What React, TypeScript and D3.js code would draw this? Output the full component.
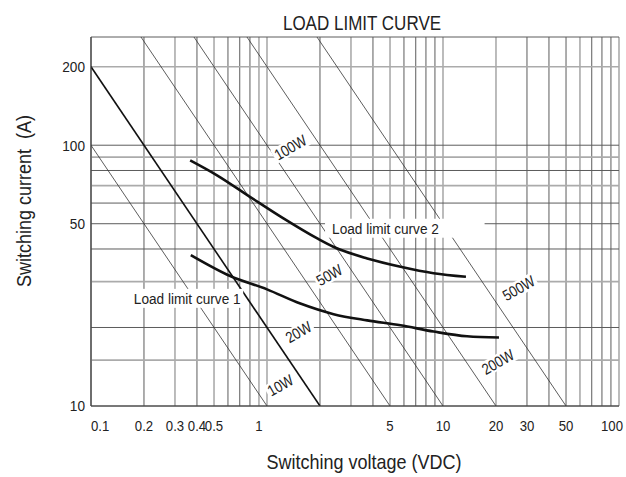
import { useEffect, useRef } from "react";
import * as d3 from "d3";

// grid values (log axes)
const xGridValues = [
  0.1, 0.2, 0.3, 0.4, 0.5, 0.6, 0.7, 0.8, 0.9,
  1, 2, 3, 4, 5, 6, 7, 8, 9,
  10, 20, 30, 40, 50, 60, 70, 80, 90, 100,
];
const xLightGrid = [0.3, 0.5, 0.9, 1, 3, 5, 10, 20, 60, 100];
const yGridValues = [10, 15, 20, 30, 40, 50, 60, 70, 80, 90, 100, 200];
const yLightGrid = [200, 90, 70, 30, 15];

const xTickValues = [0.1, 0.2, 0.3, 0.4, 0.5, 1, 5, 10, 20, 30, 50, 100];
const xTickLabels = ["0.1", "0.2", "0.3", "0.4", "0.5", "1", "5", "10", "20", "30", "50", "100"];
const yTickValues = [10, 50, 100, 200];

// constant power lines (W)
const powerWatts = [10, 20, 50, 100, 200, 500];
const powerLabelV = [1.19, 1.51, 2.26, 1.357, 20.5, 26.9];
const powerLabelI = [12.0, 19.2, 31.8, 98, 14.75, 28.3];

// load limit curves (V, A)
const curve1V = [0.369, 0.618, 1.0, 1.547, 2.39, 3.71, 5.74, 8.84, 13.7, 20.8];
const curve1I = [37.9, 31.5, 28.0, 24.7, 22.5, 21.3, 20.4, 19.3, 18.5, 18.3];
const curve2V = [0.366, 0.52, 0.8, 1.24, 1.93, 2.38, 3.71, 5.74, 8.84, 13.5];
const curve2I = [87.5, 76.7, 63.4, 52.4, 43.9, 40.8, 36.8, 34.2, 32.3, 31.3];

const curveLabels = ["Load limit curve 1", "Load limit curve 2"];
const curveLabelV = [0.352, 4.71];
const curveLabelI = [25.9, 48.1];

const FONT = "'Liberation Sans', Arial, sans-serif";

type Sel = d3.Selection<any, unknown, null, undefined>;

// condensed text: the original uses a narrow Helvetica, so squeeze horizontally
function addText(
  parent: Sel,
  tx: number,
  ty: number,
  str: string,
  size: number,
  squeeze: number,
  anchor = "middle",
  rotate = 0,
  dy = "0em"
) {
  const g = parent
    .append("g")
    .attr("transform", `translate(${tx},${ty}) rotate(${rotate}) scale(${squeeze},1)`);
  const t = g
    .append("text")
    .attr("text-anchor", anchor)
    .attr("dy", dy)
    .style("font-family", FONT)
    .style("font-size", `${size}px`)
    .style("white-space", "pre")
    .attr("fill", "#222")
    .text(str);
  return { g, t };
}

const LoadLimitChart = () => {
  const svgRef = useRef<SVGSVGElement>(null);

  useEffect(() => {
    const svg = d3.select(svgRef.current);
    svg.selectAll("*").remove();

    const left = 91;
    const right = 619;
    const top = 37;
    const bottom = 406;

    const x = d3.scaleLog().domain([0.1, 100]).range([left, right]);
    const y = d3.scaleLog().domain([10, 260]).range([bottom, top]);

    svg
      .append("defs")
      .append("clipPath")
      .attr("id", "plot-clip")
      .append("rect")
      .attr("x", left)
      .attr("y", top)
      .attr("width", right - left)
      .attr("height", bottom - top);

    // grid
    const grid = svg.append("g");
    grid
      .selectAll("line.vx")
      .data(xGridValues)
      .join("line")
      .attr("x1", (d) => x(d))
      .attr("x2", (d) => x(d))
      .attr("y1", top)
      .attr("y2", bottom)
      .attr("stroke", (d) => (xLightGrid.includes(d) ? "#ababab" : "#5c5c5c"))
      .attr("stroke-width", (d) => (xLightGrid.includes(d) ? 1.6 : 1));

    grid
      .selectAll("line.hy")
      .data(yGridValues)
      .join("line")
      .attr("x1", left)
      .attr("x2", right)
      .attr("y1", (d) => y(d))
      .attr("y2", (d) => y(d))
      .attr("stroke", (d) => (yLightGrid.includes(d) ? "#ababab" : "#5c5c5c"))
      .attr("stroke-width", (d) => (yLightGrid.includes(d) ? 1.6 : 1));

    grid
      .append("line")
      .attr("x1", left)
      .attr("x2", right)
      .attr("y1", top)
      .attr("y2", top)
      .attr("stroke", "#5c5c5c");

    // power lines
    const plot = svg.append("g").attr("clip-path", "url(#plot-clip)");
    plot
      .selectAll("line.pw")
      .data(powerWatts)
      .join("line")
      .attr("x1", (d) => x(d / 260))
      .attr("y1", y(260))
      .attr("x2", (d) => x(d / 10))
      .attr("y2", y(10))
      .attr("stroke", (d) => (d === 20 ? "#111" : "#333"))
      .attr("stroke-width", (d) => (d === 20 ? 1.6 : 0.8));

    // curve labels with white boxes
    const curveLabelG = svg.append("g");
    curveLabels.forEach((label, i) => {
      const { g, t } = addText(
        curveLabelG,
        x(curveLabelV[i]),
        y(curveLabelI[i]),
        label,
        15.5,
        0.88,
        "middle",
        0,
        "0.35em"
      );
      const bb = (t.node() as SVGTextElement).getBBox();
      const padR = i === 1 ? 52 : 3;
      const padL = i === 1 ? 8 : 3;
      g.insert("rect", "text")
        .attr("fill", "white")
        .attr("x", bb.x - padL)
        .attr("y", bb.y - 1)
        .attr("width", bb.width + padL + padR)
        .attr("height", bb.height + 2);
    });

    // power labels
    const pwLabels = svg.append("g");
    powerWatts.forEach((w, i) => {
      const { g, t } = addText(
        pwLabels,
        x(powerLabelV[i]),
        y(powerLabelI[i]),
        `${w}W`,
        15.5,
        0.85,
        "middle",
        -30,
        "0.35em"
      );
      const bb = (t.node() as SVGTextElement).getBBox();
      g.insert("rect", "text")
        .attr("fill", "white")
        .attr("x", bb.x - 2)
        .attr("y", bb.y + 1)
        .attr("width", bb.width + 4)
        .attr("height", bb.height - 2);
    });

    // load limit curves
    const line = d3
      .line<[number, number]>()
      .x((d) => x(d[0]))
      .y((d) => y(d[1]))
      .curve(d3.curveMonotoneX);

    [
      curve1V.map((v, i) => [v, curve1I[i]] as [number, number]),
      curve2V.map((v, i) => [v, curve2I[i]] as [number, number]),
    ].forEach((pts) => {
      svg
        .append("path")
        .datum(pts)
        .attr("fill", "none")
        .attr("stroke", "#111")
        .attr("stroke-width", 2.6)
        .attr("d", line);
    });

    // axis lines
    svg
      .append("line")
      .attr("x1", left)
      .attr("x2", left)
      .attr("y1", top)
      .attr("y2", bottom)
      .attr("stroke", "#444")
      .attr("stroke-width", 1.2);
    svg
      .append("line")
      .attr("x1", left)
      .attr("x2", right)
      .attr("y1", bottom)
      .attr("y2", bottom)
      .attr("stroke", "#444")
      .attr("stroke-width", 1.2);

    // x tick labels
    const xt = svg.append("g");
    xTickValues.forEach((v, i) => {
      let px = x(v);
      let anchor = "middle";
      if (i === 0) anchor = "start";
      if (i === xTickValues.length - 1) {
        anchor = "end";
        px = right + 4;
      }
      if (v === 1) px -= 8;
      addText(xt, px, 431, xTickLabels[i], 15.5, 0.85, anchor);
    });

    // y tick labels
    const yt = svg.append("g");
    yTickValues.forEach((v) => {
      addText(yt, 85, y(v), String(v), 15.5, 0.88, "end", 0, "0.35em");
    });

    // title + axis titles
    addText(svg, 362, 30, "LOAD LIMIT CURVE", 20.5, 0.83);
    addText(svg, 364, 469, "Switching voltage (VDC)", 20, 0.9);
    addText(svg, 31, 201, "Switching current  (A)", 20, 0.9, "middle", -90);
  }, []);

  return (
    <svg
      ref={svgRef}
      width={626}
      height={477}
      style={{ position: "absolute", left: 0, top: 0, background: "white" }}
    />
  );
};

export default function App() {
  return <LoadLimitChart />;
}
